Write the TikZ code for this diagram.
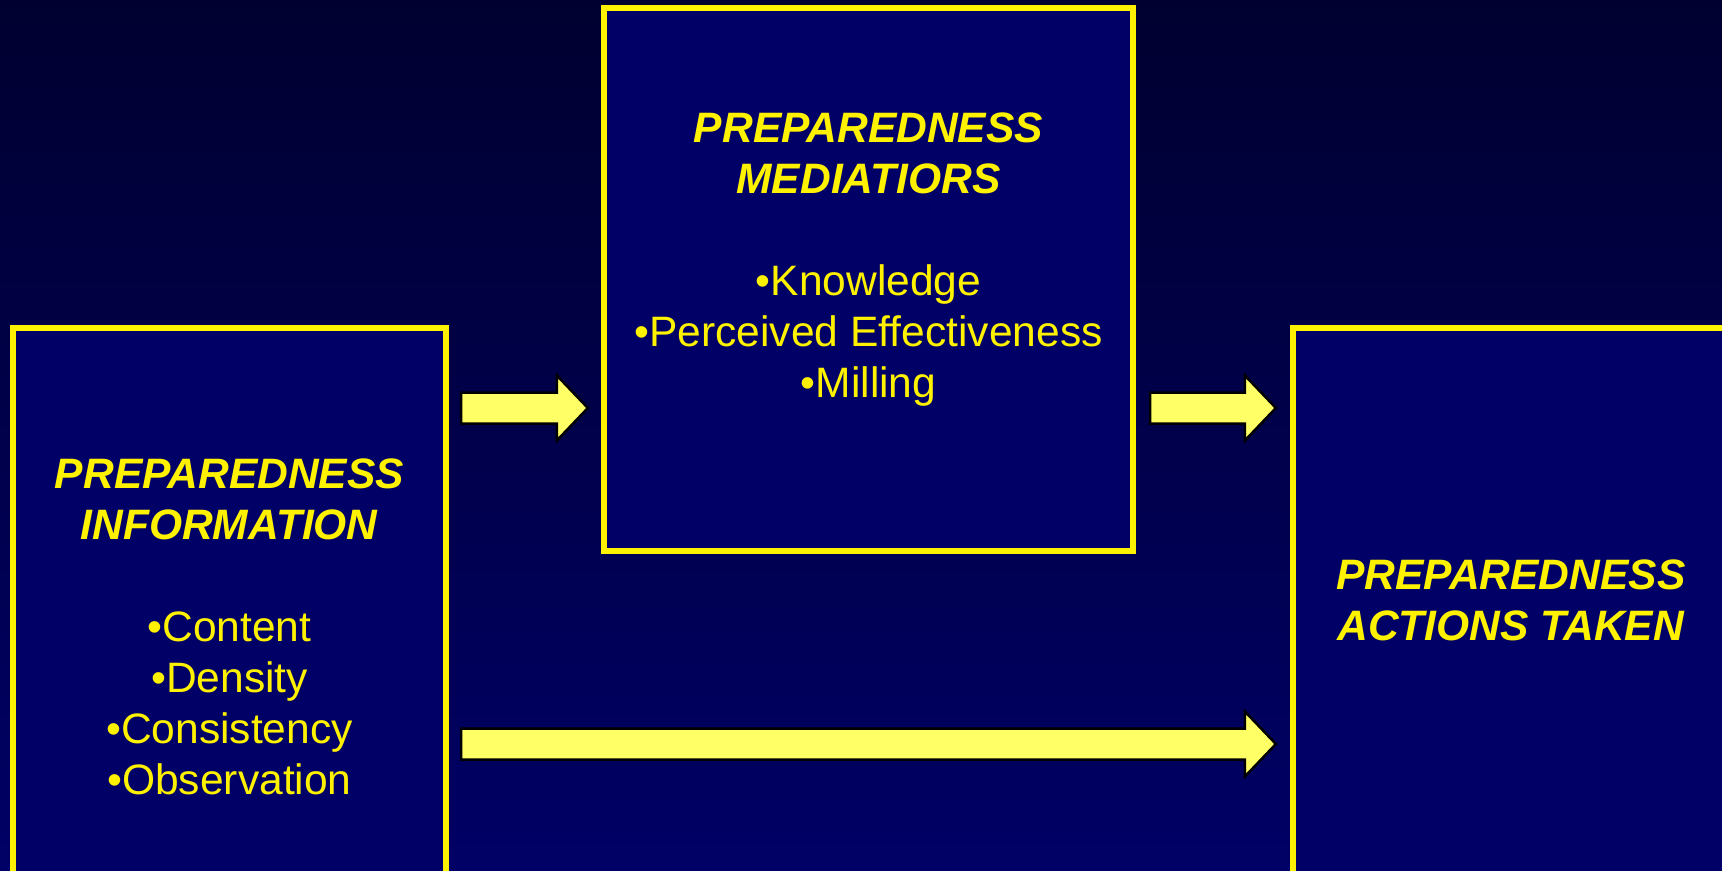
\documentclass[tikz,border=0pt]{standalone}
\usepackage{fontspec}
\setmainfont{Liberation Sans}
\usetikzlibrary{calc}
\definecolor{bgtop}{HTML}{000030}
\definecolor{bgbot}{HTML}{000066}
\definecolor{boxfill}{HTML}{000066}
\definecolor{arrowfill}{HTML}{FFFF66}
\newcommand{\ttl}[1]{\textbf{\textit{#1}}}
\tikzset{
	blok/.style={rectangle,draw=yellow,fill=boxfill,line width=0.055cm,inner sep=0pt,outer sep=0pt},
	txt/.style={text=yellow,align=center,inner sep=0pt,anchor=north,font=\fontsize{12.1pt}{14.5pt}\selectfont},
	fatarrow/.style={draw=black,fill=arrowfill,line width=0.025cm,line join=miter,
		to path={($(\tikztostart)+(0,-15.5)$) -- ($(\tikztotarget)+(-31,-15.5)$) -- ($(\tikztotarget)+(-31,-32.5)$) -- (\tikztotarget) -- ($(\tikztotarget)+(-31,32.5)$) -- ($(\tikztotarget)+(-31,15.5)$) -- ($(\tikztostart)+(0,15.5)$) -- cycle}}
}

\begin{document}
\begin{tikzpicture}[x=0.01cm,y=-0.01cm]
		\useasboundingbox (0,0) rectangle (1722,870);
		\clip (0,0) rectangle (1722,870);
		\shade[top color=bgtop, bottom color=bgbot] (0,0) rectangle (1722,870);
		
		\node[blok,minimum width=4.33cm,minimum height=5.72cm] (info) at (229.5,614) {};
		\node[blok,minimum width=5.29cm,minimum height=5.43cm] (med) at (868.5,279.5) {};
		\node[blok,minimum width=4.36cm,minimum height=5.72cm] (act) at (1511,614) {};
		
		\node[txt] (infotxt) at (info.north |- 0,458) {\ttl{PREPAREDNESS}\\ \ttl{INFORMATION}\\[0.51cm] •Content\\ •Density\\ •Consistency\\ •Observation};
		\node[txt] (medtxt) at (med.north |- 0,112.5) {\ttl{PREPAREDNESS}\\ \ttl{MEDIATIORS}\\[0.51cm] •Knowledge\\ •Perceived Effectiveness\\ •Milling};
		\node[txt] (acttxt) at (act.north |- 0,559.5) {\ttl{PREPAREDNESS}\\ \ttl{ACTIONS TAKEN}};
		
		\coordinate (a1s) at ($(info.east |- 0,408)+(15,0)$);
		\coordinate (a1e) at ($(med.west |- 0,408)+(-16,0)$);
		\coordinate (a2s) at ($(med.east |- 0,408)+(17,0)$);
		\coordinate (a2e) at ($(act.west |- 0,408)+(-17,0)$);
		\coordinate (a3s) at ($(info.east |- 0,744)+(15,0)$);
		\coordinate (a3e) at ($(act.west |- 0,744)+(-17,0)$);
		
		\draw[fatarrow] (a1s) to (a1e);
		\draw[fatarrow] (a2s) to (a2e);
		\draw[fatarrow] (a3s) to (a3e);
		
\end{tikzpicture}
\end{document}
